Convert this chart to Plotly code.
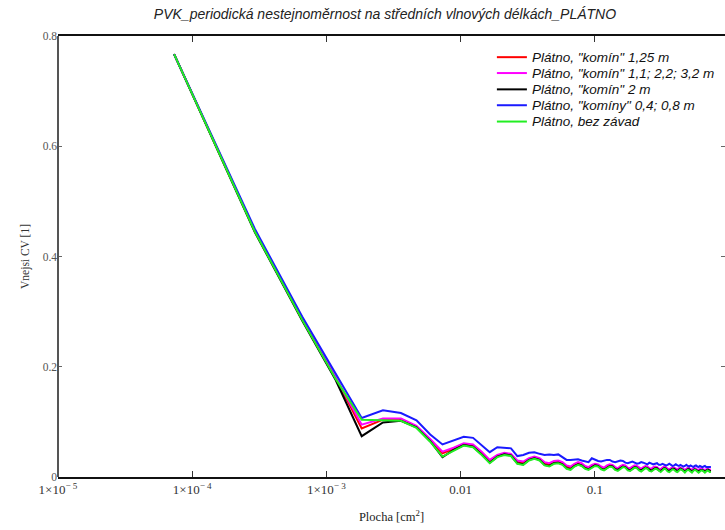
import plotly.graph_objects as go

# sample index k (area = (k * step)^2)
k_index = list(range(1, 101))
step_cm = 0.00856
plocha = [(k * step_cm) ** 2 for k in k_index]

red = [0.767, 0.446, 0.286, 0.180, 0.088, 0.104, 0.105, 0.091, 0.067, 0.043,
       0.051, 0.059, 0.057, 0.044, 0.029, 0.038, 0.042, 0.040, 0.028, 0.026,
       0.032, 0.035, 0.032, 0.025, 0.023, 0.027, 0.028, 0.025, 0.019, 0.017,
       0.022, 0.025, 0.023, 0.018, 0.016, 0.020, 0.022, 0.021, 0.017, 0.015,
       0.019, 0.021, 0.020, 0.016, 0.014, 0.018, 0.020, 0.019, 0.015, 0.014,
       0.017, 0.019, 0.018, 0.015, 0.013, 0.016, 0.018, 0.017, 0.014, 0.013,
       0.016, 0.017, 0.016, 0.013, 0.012, 0.015, 0.017, 0.016, 0.013, 0.012,
       0.014, 0.016, 0.015, 0.013, 0.012, 0.014, 0.015, 0.014, 0.012, 0.011,
       0.013, 0.015, 0.014, 0.012, 0.011, 0.013, 0.014, 0.013, 0.011, 0.011,
       0.013, 0.014, 0.013, 0.011, 0.011, 0.012, 0.013, 0.012, 0.011, 0.011]

magenta = [0.767, 0.447, 0.287, 0.181, 0.095, 0.106, 0.106, 0.093, 0.069, 0.046,
           0.053, 0.061, 0.059, 0.046, 0.031, 0.040, 0.044, 0.042, 0.030, 0.028,
           0.034, 0.037, 0.034, 0.027, 0.025, 0.029, 0.030, 0.027, 0.021, 0.019,
           0.024, 0.027, 0.025, 0.020, 0.018, 0.022, 0.024, 0.023, 0.019, 0.017,
           0.021, 0.023, 0.022, 0.018, 0.016, 0.020, 0.022, 0.021, 0.017, 0.016,
           0.019, 0.021, 0.020, 0.017, 0.015, 0.018, 0.020, 0.019, 0.016, 0.015,
           0.018, 0.019, 0.018, 0.015, 0.014, 0.017, 0.019, 0.018, 0.015, 0.014,
           0.016, 0.018, 0.017, 0.015, 0.014, 0.016, 0.017, 0.016, 0.014, 0.013,
           0.015, 0.017, 0.016, 0.014, 0.013, 0.015, 0.016, 0.015, 0.013, 0.013,
           0.015, 0.016, 0.015, 0.013, 0.013, 0.014, 0.015, 0.014, 0.013, 0.013]

black = [0.767, 0.444, 0.284, 0.176, 0.074, 0.099, 0.102, 0.090, 0.065, 0.036,
         0.049, 0.058, 0.055, 0.041, 0.026, 0.037, 0.041, 0.039, 0.025, 0.023,
         0.031, 0.034, 0.031, 0.022, 0.020, 0.025, 0.026, 0.023, 0.016, 0.014,
         0.020, 0.023, 0.021, 0.016, 0.014, 0.018, 0.021, 0.020, 0.015, 0.013,
         0.017, 0.020, 0.019, 0.014, 0.013, 0.016, 0.019, 0.018, 0.014, 0.012,
         0.015, 0.018, 0.017, 0.013, 0.012, 0.014, 0.017, 0.016, 0.013, 0.011,
         0.014, 0.016, 0.016, 0.012, 0.011, 0.013, 0.016, 0.015, 0.012, 0.011,
         0.013, 0.015, 0.015, 0.012, 0.010, 0.013, 0.015, 0.014, 0.011, 0.010,
         0.012, 0.014, 0.014, 0.011, 0.010, 0.012, 0.014, 0.013, 0.011, 0.010,
         0.012, 0.013, 0.013, 0.011, 0.010, 0.011, 0.013, 0.013, 0.011, 0.011]

blue = [0.767, 0.450, 0.291, 0.186, 0.107, 0.121, 0.116, 0.103, 0.077, 0.059,
        0.066, 0.073, 0.071, 0.058, 0.045, 0.054, 0.053, 0.052, 0.038, 0.040,
        0.044, 0.045, 0.042, 0.040, 0.041, 0.040, 0.041, 0.036, 0.031, 0.031,
        0.032, 0.032, 0.030, 0.028, 0.027, 0.034, 0.031, 0.029, 0.028, 0.030,
        0.031, 0.031, 0.028, 0.027, 0.028, 0.030, 0.029, 0.026, 0.025, 0.027,
        0.028, 0.026, 0.024, 0.025, 0.027, 0.026, 0.024, 0.023, 0.026, 0.025,
        0.023, 0.024, 0.025, 0.022, 0.022, 0.024, 0.023, 0.021, 0.022, 0.024,
        0.022, 0.020, 0.021, 0.023, 0.021, 0.020, 0.022, 0.021, 0.019, 0.020,
        0.022, 0.020, 0.019, 0.021, 0.020, 0.018, 0.020, 0.021, 0.019, 0.018,
        0.020, 0.019, 0.018, 0.019, 0.020, 0.018, 0.018, 0.019, 0.018, 0.018]

green = [0.767, 0.445, 0.285, 0.178, 0.104, 0.103, 0.102, 0.089, 0.064, 0.037,
         0.048, 0.057, 0.054, 0.040, 0.025, 0.036, 0.040, 0.038, 0.024, 0.022,
         0.030, 0.033, 0.030, 0.021, 0.019, 0.024, 0.025, 0.022, 0.015, 0.013,
         0.019, 0.022, 0.020, 0.015, 0.013, 0.017, 0.020, 0.019, 0.014, 0.012,
         0.016, 0.019, 0.018, 0.013, 0.011, 0.015, 0.018, 0.017, 0.012, 0.011,
         0.014, 0.017, 0.016, 0.012, 0.010, 0.013, 0.016, 0.015, 0.011, 0.010,
         0.013, 0.015, 0.014, 0.011, 0.009, 0.012, 0.015, 0.014, 0.010, 0.009,
         0.012, 0.014, 0.013, 0.010, 0.009, 0.011, 0.014, 0.013, 0.010, 0.008,
         0.011, 0.013, 0.012, 0.009, 0.008, 0.011, 0.013, 0.012, 0.009, 0.008,
         0.010, 0.012, 0.012, 0.009, 0.008, 0.010, 0.012, 0.011, 0.009, 0.009]

series_names = ['Plátno, "komín" 1,25 m',
                'Plátno, "komín" 1,1; 2,2; 3,2 m',
                'Plátno, "komín" 2 m',
                'Plátno, "komíny" 0,4; 0,8 m',
                'Plátno, bez závad']
series_values = [red, magenta, black, blue, green]
series_colors = ["#ff0000", "#ff00ff", "#000000", "#1a1aff", "#22ee22"]

x_tickvals = [1e-5, 1e-4, 1e-3, 0.01, 0.1]
x_ticktext = ["1×10<sup>− 5</sup>", "1×10<sup>− 4</sup>", "1×10<sup>− 3</sup>", "0.01", "0.1"]
y_tickvals = [0, 0.2, 0.4, 0.6, 0.8]
y_ticktext = ["0", "0.2", "0.4", "0.6", "0.8"]

fig = go.Figure()
for name, vals, col in zip(series_names, series_values, series_colors):
    fig.add_trace(go.Scatter(x=plocha, y=vals, mode="lines", name=name,
                             line=dict(color=col, width=2), showlegend=False))

# custom compact legend
leg_rows_y = [0.952, 0.916, 0.879, 0.843, 0.806]
shapes = []
annotations = []
for name, col, yy in zip(series_names, series_colors, leg_rows_y):
    shapes.append(dict(type="line", xref="paper", yref="paper", x0=0.658, x1=0.703,
                       y0=yy, y1=yy, line=dict(color=col, width=2)))
    annotations.append(dict(xref="paper", yref="paper", x=0.707, y=yy, xanchor="left",
                            yanchor="middle", showarrow=False, text="<i>" + name + "</i>",
                            font=dict(family="Liberation Sans, Arial", size=13.5, color="#111")))
# left axis line
shapes.append(dict(type="line", xref="paper", yref="paper", x0=0, x1=0, y0=0, y1=1,
                   line=dict(color="#555", width=2)))

fig.update_layout(
    width=725, height=530,
    margin=dict(l=58, r=0, t=36, b=53),
    paper_bgcolor="white", plot_bgcolor="white",
    title=dict(text="<i>PVK_periodická nestejnoměrnost na středních vlnových délkách_PLÁTNO</i>",
               x=0.531, xanchor="center", y=0.974, yanchor="middle",
               font=dict(family="Liberation Sans, Arial", size=14, color="#222")),
    shapes=shapes, annotations=annotations,
    xaxis=dict(type="log", range=[-5, -0.030], tickvals=x_tickvals, ticktext=x_ticktext,
               showgrid=False, zeroline=False, showline=True, linecolor="#111", linewidth=1.5,
               mirror="ticks", ticks="inside", ticklen=6, tickcolor="#333",
               tickfont=dict(family="Liberation Serif, Times New Roman", size=13, color="#333"),
               title=dict(text="Plocha [cm<sup>2</sup>]", standoff=16,
                          font=dict(family="Liberation Serif, Times New Roman", size=12.5, color="#222"))),
    yaxis=dict(range=[0, 0.8], tickvals=y_tickvals, ticktext=y_ticktext,
               showgrid=False, zeroline=False, showline=False,
               mirror="ticks", ticks="inside", ticklen=4, tickcolor="#666",
               tickfont=dict(family="Liberation Serif, Times New Roman", size=11.5, color="#555"),
               title=dict(text="Vnejsi CV [1]", standoff=10,
                          font=dict(family="Liberation Serif, Times New Roman", size=11.5, color="#333"))),
)

fig.write_html("out.html")
